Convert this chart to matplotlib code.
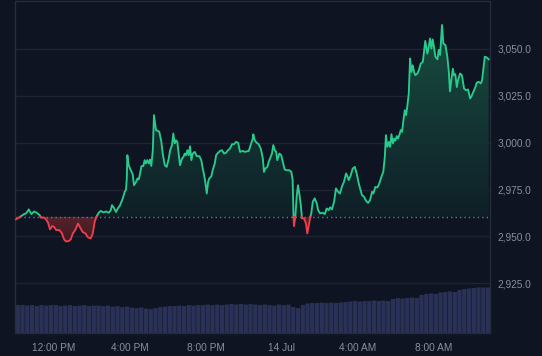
import numpy as np
import matplotlib
matplotlib.use("Agg")
import matplotlib.pyplot as plt
from matplotlib.colors import LinearSegmentedColormap
from matplotlib.path import Path
from matplotlib.patches import PathPatch

# ---- data (hours relative to 13 Jul 12:00 PM) ----
hours = [-1.98, -1.77, -1.59, -1.45, -1.31, -1.24, -1.17, -1.03, -0.89, -0.75, -0.65, -0.51, -0.40, -0.29,
         -0.19, -0.08, 0.02, 0.13, 0.30, 0.44, 0.55, 0.65, 0.79, 0.90, 1.01, 1.14, 1.28, 1.39, 1.53, 1.67,
         1.81, 1.95, 2.06, 2.16, 2.27, 2.37, 2.48, 2.62, 2.76, 2.90, 3.01, 3.07, 3.18, 3.28, 3.39,
         3.49, 3.64, 3.74, 3.81, 3.85, 3.88, 3.95, 4.06, 4.16, 4.23, 4.34, 4.41, 4.48, 4.55, 4.62, 4.72,
         4.79, 4.86, 4.93, 5.01, 5.07, 5.14, 5.22, 5.28, 5.39, 5.49, 5.56, 5.67, 5.74, 5.85, 5.95, 6.06,
         6.13, 6.23, 6.30, 6.37, 6.44, 6.51, 6.58, 6.65, 6.76, 6.83, 6.90, 6.97, 7.04, 7.11, 7.18, 7.25,
         7.32, 7.43, 7.53, 7.67, 7.77, 7.85, 7.92, 7.98, 8.06, 8.13, 8.19, 8.30, 8.37, 8.48, 8.55, 8.65,
         8.76, 8.86, 8.97, 9.07, 9.18, 9.28, 9.39, 9.49, 9.60, 9.71,
         9.81, 9.95, 10.06, 10.27, 10.37, 10.48, 10.51, 10.58, 10.69, 10.79, 10.90, 11.01, 11.07, 11.14,
         11.25, 11.32, 11.39, 11.49, 11.56, 11.64, 11.71, 11.77, 11.88, 11.98, 12.06, 12.16, 12.27, 12.41,
         12.51, 12.58, 12.62, 12.65, 12.72, 12.79, 12.86, 12.93, 13.01, 13.07, 13.18, 13.28, 13.35, 13.43,
         13.49, 13.56, 13.64, 13.74, 13.85, 13.92, 14.02, 14.16, 14.27, 14.37, 14.48, 14.55, 14.65, 14.76,
         14.86, 14.97, 15.07, 15.18, 15.28, 15.39, 15.46, 15.53, 15.64, 15.74, 15.85, 15.95, 16.06,
         16.13, 16.23, 16.34, 16.44, 16.55, 16.65, 16.76, 16.83, 16.93, 17.04, 17.14, 17.25, 17.35, 17.43,
         17.49, 17.56, 17.64, 17.71, 17.78, 17.85, 17.92, 17.98, 18.06, 18.13, 18.19, 18.27, 18.34, 18.41,
         18.48, 18.55, 18.62, 18.69, 18.76, 18.83, 18.90, 18.97, 19.04, 19.14, 19.22, 19.32, 19.43, 19.49,
         19.56, 19.67, 19.74, 19.81, 19.88, 19.95, 20.02, 20.09, 20.20, 20.27, 20.34, 20.44, 20.51, 20.62,
         20.72, 20.80, 20.86, 20.93, 21.01, 21.07, 21.14, 21.22, 21.28, 21.39, 21.49, 21.60, 21.70, 21.81,
         21.92, 21.98, 22.09, 22.19, 22.27, 22.37, 22.48, 22.55, 22.62, 22.69, 22.79, 22.90]

price = [2959.1, 2960.4, 2961.7, 2962.3, 2964.4, 2963.1, 2961.9, 2963.3, 2962.6, 2961.5, 2959.9, 2960.1, 2959.1, 2957.2,
         2953.7, 2955.5, 2955.1, 2953.4, 2953.4, 2951.6, 2948.4, 2947.3, 2947.5, 2948.4, 2951.6, 2953.4, 2956.9, 2954.8, 2952.3, 2951.6,
         2949.5, 2948.9, 2951.6, 2957.8, 2960.8, 2962.6, 2963.6, 2962.8, 2963.3, 2962.6, 2964.0, 2966.7, 2965.1, 2963.0, 2965.1,
         2966.5, 2970.3, 2973.8, 2975.0, 2980.9, 2993.3, 2988.0, 2985.3, 2983.2, 2977.3, 2979.1, 2980.9, 2980.4, 2983.6, 2987.5, 2987.5,
         2990.7, 2988.9, 2990.7, 2988.9, 2991.0, 2987.6, 2996.0, 3014.7, 3006.6, 3006.3, 3005.8, 3000.4, 2994.2, 2988.0, 2987.1, 2991.6,
         2996.0, 2998.7, 3004.9, 2999.6, 3001.3, 3000.4, 2994.2, 2988.0, 2991.6, 2992.4, 2994.2, 2993.3, 2996.0, 2993.3, 2998.1, 2990.7,
         2994.2, 2995.1, 2992.8, 2992.8, 2990.7, 2986.2, 2982.7, 2979.1, 2972.9, 2979.1, 2980.9, 2982.1, 2985.3, 2988.9, 2993.3, 2994.6,
         2995.6, 2996.0, 2994.2, 2994.6, 2996.0, 2996.9, 2999.2, 2999.2, 3000.4, 2999.9,
         2995.1, 2995.6, 2995.1, 2995.6, 2998.7, 3002.2, 3004.5, 3001.3, 2999.9, 2999.2, 2996.9, 2991.6, 2984.4, 2986.2,
         2987.1, 2989.8, 2991.6, 2994.2, 2998.7, 2996.0, 2995.1, 2990.7, 2994.2, 2993.3, 2989.8, 2985.7, 2985.3, 2985.3,
         2984.4, 2980.0, 2961.4, 2955.5, 2960.4, 2971.1, 2977.3, 2972.9, 2966.7, 2959.6, 2959.6, 2956.9, 2951.6, 2956.0,
         2959.6, 2962.3, 2968.5, 2970.3, 2967.6, 2964.0, 2962.3, 2962.6, 2961.9, 2964.9, 2964.0, 2965.5, 2964.4, 2968.5,
         2975.6, 2973.8, 2972.9, 2976.8, 2979.1, 2983.6, 2982.1, 2980.0, 2982.7, 2986.2, 2987.1, 2983.6, 2978.2,
         2975.5, 2972.0, 2971.1, 2969.0, 2967.9, 2969.3, 2973.8, 2972.9, 2976.4, 2976.1, 2978.2, 2981.8, 2984.4, 2992.4,
         3004.0, 2997.8, 3000.4, 2997.8, 3004.5, 2999.6, 3002.2, 3001.0, 3003.5, 3002.2, 3004.0, 3006.7, 3005.8, 3012.0,
         3017.3, 3014.7, 3020.0, 3026.2, 3044.9, 3037.7, 3041.3, 3037.7, 3036.0, 3036.9, 3038.6, 3042.2, 3043.1, 3048.4,
         3054.3, 3047.5, 3051.1, 3055.6, 3050.2, 3055.1, 3050.9, 3045.9, 3044.5, 3049.5, 3046.8, 3062.8, 3053.0, 3052.1,
         3045.9, 3037.7, 3027.4, 3033.3, 3039.5, 3036.0, 3036.5, 3029.7, 3033.3, 3036.9, 3036.0, 3028.9, 3028.0, 3028.4,
         3023.6, 3024.5, 3027.1, 3029.5, 3032.0, 3032.5, 3031.6, 3033.3, 3039.5, 3045.9, 3045.5, 3044.5]

base_price = 2960.4

# volume bars every 15 minutes starting at 10:00 AM (arbitrary units)
vol_start = -2.0
vol_step = 0.25
volume = [28, 28, 27.5, 28, 27, 28, 27.5, 28, 28, 27, 27.5, 28, 27, 27.5, 28, 27, 27.5,
          27.5, 27, 27.5, 26.5, 27, 26, 26.5,
          25.5, 25, 25.5, 24.5, 24, 25,
          26, 26.5, 27, 27, 27.5, 27, 28, 27.5, 28, 28, 28.5, 28, 28.5, 28, 28.5, 29, 28.5, 29, 28.5, 29,
          28.5, 28, 28.5, 28, 27.5, 28.5, 28, 28.5, 26,
          25, 28, 29.5, 30, 30, 30.5, 30, 30.5, 30, 30.5,
          31, 31.5, 32, 31.5, 32, 32, 32.5, 32, 32.5, 32,
          34, 35, 34.5, 35, 35.5, 35,
          38, 39, 39.5, 39,
          40.5, 41, 41.5, 41,
          43, 44, 44.5, 45, 45.5, 45.5,
          45.5]

tick_hours = [0, 4, 8, 12, 16, 20]
tick_labels = ["12:00 PM", "4:00 PM", "8:00 PM", "14 Jul", "4:00 AM", "8:00 AM"]
y_ticks = [2925, 2950, 2975, 3000, 3025, 3050]

# ---- style ----
BG = "#0e1421"
GRID = "#1e2432"
SPINE = "#262c3b"
TXT = "#8a8f9c"
GREEN = "#27cb8c"
RED = "#ee3e4c"
VOL = "#293256"
FONT = ["Liberation Sans", "DejaVu Sans"]

plt.rcParams["font.family"] = FONT

fig = plt.figure(figsize=(5.42, 3.56), dpi=100, facecolor=BG)
rect = [14.5 / 542, 22.7 / 356, 475 / 542, 332.3 / 356]

xlim = (-2.06, 22.94)
ylim = (2898.3, 3075.6)

# volume axes (behind)
axv = fig.add_axes(rect, zorder=0)
axv.set_facecolor(BG)
vt = vol_start + vol_step * np.arange(len(volume))
bars = axv.bar(vt, volume, width=vol_step * 0.9, align="edge", color=VOL, linewidth=0)
for b in bars:
    b.set_snap(False)
axv.set_xlim(xlim)
axv.set_ylim(0, max(volume) / 0.138)
axv.axis("off")

# price axes
ax = fig.add_axes(rect, zorder=1)
ax.patch.set_visible(False)

t = np.array(hours, dtype=float)
p = np.array(price, dtype=float)
tt = [t[0]]
pp = [p[0]]
for i in range(1, len(t)):
    a, b = p[i - 1] - base_price, p[i] - base_price
    if a * b < 0:
        f = -a / (b - a)
        tt.append(t[i - 1] + f * (t[i] - t[i - 1]))
        pp.append(base_price)
    tt.append(t[i])
    pp.append(p[i])
tt = np.array(tt)
pp = np.array(pp)

up_poly = ax.fill_between(tt, pp, base_price, where=pp >= base_price, color="none", linewidth=0)
dn_poly = ax.fill_between(tt, pp, base_price, where=pp <= base_price, color="none", linewidth=0)


def combined(poly):
    paths = poly.get_paths()
    verts = np.concatenate([pth.vertices for pth in paths])
    codes = np.concatenate([pth.codes if pth.codes is not None else
                            np.array([Path.MOVETO] + [Path.LINETO] * (len(pth.vertices) - 1))
                            for pth in paths])
    return Path(verts, codes)


g_cmap = LinearSegmentedColormap.from_list("g", ["#0f1f27", "#184d40"])
r_cmap = LinearSegmentedColormap.from_list("r", ["#3c1a24", "#5a222b"])
grad = np.linspace(0, 1, 256).reshape(-1, 1)

im_g = ax.imshow(grad, cmap=g_cmap, origin="lower", aspect="auto",
                 extent=[xlim[0], xlim[1], base_price, max(price)], zorder=1)
pg = PathPatch(combined(up_poly), transform=ax.transData, facecolor="none", edgecolor="none")
ax.add_patch(pg)
im_g.set_clip_path(pg)

im_r = ax.imshow(grad, cmap=r_cmap, origin="lower", aspect="auto",
                 extent=[xlim[0], xlim[1], min(price), base_price], zorder=1)
pr = PathPatch(combined(dn_poly), transform=ax.transData, facecolor="none", edgecolor="none")
ax.add_patch(pr)
im_r.set_clip_path(pr)

# baseline
ax.axhline(base_price, color="#6f7686", lw=1.0, ls=(0, (1, 2.2)), zorder=2)

# lines
up = np.where(pp >= base_price, pp, np.nan)
dn = np.where(pp <= base_price, pp, np.nan)
ax.plot(tt, up, color=GREEN, lw=1.35, zorder=3, solid_joinstyle="round")
ax.plot(tt, dn, color=RED, lw=1.35, zorder=3, solid_joinstyle="round")

# grid
for yv in y_ticks:
    ax.axhline(yv, color=GRID, lw=1.0, zorder=0.5)

ax.set_yticks(y_ticks)
ax.set_yticklabels([f"{v:,.1f}" for v in y_ticks])
ax.yaxis.tick_right()
ax.set_xticks(tick_hours)
ax.set_xticklabels(tick_labels)
ax.tick_params(axis="both", length=0, colors=TXT, labelsize=7.3)
ax.tick_params(axis="y", pad=5.5)
ax.tick_params(axis="x", pad=7)
ax.set_xlim(xlim)
ax.set_ylim(ylim)
for s in ax.spines.values():
    s.set_color(SPINE)
    s.set_linewidth(1.0)

fig.savefig("out.png", dpi=100, facecolor=BG)
